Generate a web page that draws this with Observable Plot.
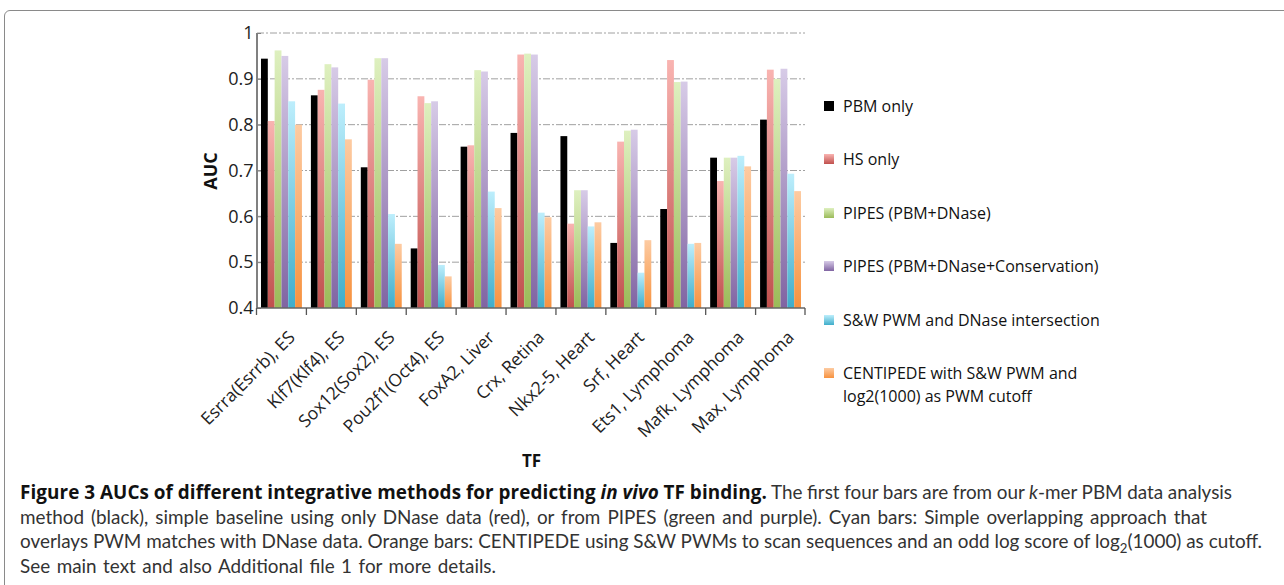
<!DOCTYPE html>
<html>
<head>
<meta charset="utf-8">
<script src="https://cdn.jsdelivr.net/npm/d3@7"></script>
<script src="https://cdn.jsdelivr.net/npm/@observablehq/plot@0.6"></script>
<style>
  html, body { margin: 0; padding: 0; background: #fff; width: 1284px; height: 585px; overflow: hidden; }
  #box { position: absolute; left: 4px; top: 10px; width: 1300px; height: 600px; border: 1.5px solid #8a8a8a; border-radius: 6px; box-sizing: border-box; }
  #chart { position: absolute; left: 0; top: 0; }
  #legend { position: absolute; left: 824px; top: 0; font-family: "Open Sans", sans-serif; font-size: 16px; color: #111; }
  .li { position: absolute; left: 0; white-space: nowrap; line-height: 23px; }
  .sw { position: absolute; left: 0; width: 10px; height: 10px; }
  .lt { position: absolute; left: 19px; }
  #caption { position: absolute; left: 20px; top: 480px; font-family: Lato, "Open Sans", sans-serif; font-size: 18px; line-height: 24.7px; color: #333; white-space: nowrap; }
  #caption b { font-family: "Open Sans", sans-serif; font-weight: bold; color: #111; letter-spacing: 0.1px; }
  #caption .ln { display: block; height: 24.7px; }
  #caption sub { font-size: 0.7em; vertical-align: -0.35em; line-height: 0; }
</style>
</head>
<body>
<div id="box"></div>
<div id="chart"></div>
<div id="legend"></div>
<div id="caption"></div>
<script>
const tfs = ["Esrra(Esrrb), ES", "Klf7(Klf4), ES", "Sox12(Sox2), ES", "Pou2f1(Oct4), ES", "FoxA2, Liver", "Crx, Retina", "Nkx2-5, Heart", "Srf, Heart", "Ets1, Lymphoma", "Mafk, Lymphoma", "Max, Lymphoma"];
const methods = ["PBM only", "HS only", "PIPES (PBM+DNase)", "PIPES (PBM+DNase+Conservation)", "S&W PWM and DNase intersection", "CENTIPEDE with S&W PWM and log2(1000) as PWM cutoff"];
const pbmOnly     = [0.944, 0.864, 0.707, 0.530, 0.752, 0.782, 0.775, 0.542, 0.616, 0.728, 0.811];
const hsOnly      = [0.808, 0.876, 0.898, 0.862, 0.755, 0.953, 0.584, 0.763, 0.941, 0.677, 0.920];
const pipes       = [0.962, 0.932, 0.945, 0.847, 0.919, 0.955, 0.657, 0.787, 0.893, 0.728, 0.900];
const pipesCons   = [0.950, 0.925, 0.945, 0.851, 0.916, 0.953, 0.657, 0.789, 0.894, 0.728, 0.922];
const swPwm       = [0.851, 0.846, 0.605, 0.494, 0.654, 0.608, 0.578, 0.477, 0.540, 0.732, 0.693];
const centipede   = [0.800, 0.768, 0.540, 0.469, 0.618, 0.598, 0.587, 0.548, 0.542, 0.709, 0.655];
const series = [pbmOnly, hsOnly, pipes, pipesCons, swPwm, centipede];
const yTicks = [0.4, 0.5, 0.6, 0.7, 0.8, 0.9, 1];
const gradTop    = ["#000000", "#f9b4b1", "#def0bf", "#d7cbe7", "#bdeefc", "#fdcba2"];
const gradBottom = ["#000000", "#c0504d", "#9bbb59", "#8064a2", "#3fadca", "#f7923f"];

const data = tfs.flatMap((tf, i) => methods.map((m, j) => ({tf, method: m, auc: series[j][i]})));

const plot = Plot.plot({
  width: 820,
  height: 475,
  marginLeft: 257,
  marginRight: 15,
  marginTop: 33,
  marginBottom: 167,
  style: {fontFamily: "Open Sans, sans-serif", fontSize: "16px", color: "#222", background: "transparent"},
  fx: {domain: tfs, paddingInner: 0.18, paddingOuter: 0.08, round: false, label: null},
  x: {domain: methods, padding: 0, round: false, axis: null},
  y: {domain: [yTicks[0], yTicks[yTicks.length - 1]], axis: null},
  color: {domain: methods, range: methods.map((_, j) => `url(#grad${j})`)},
  marks: [
    Plot.barY(data, {fx: "tf", x: "method", y1: yTicks[0], y2: "auc", fill: "method"}),
    Plot.axisY({ticks: yTicks, tickSize: 5, tickPadding: 3, stroke: "#808080", tickFormat: d => String(+d.toFixed(1)), label: "AUC", labelAnchor: "center", labelArrow: "none", labelOffset: 57, fontSize: 18}),
    Plot.axisFx({anchor: "bottom", tickSize: 0, tickRotate: -45, tickPadding: 22, dx: 10, dy: 4, label: null, fontSize: 17.5}),
    Plot.axisFx({anchor: "bottom", tickSize: 0, tickFormat: () => "", label: "TF", labelAnchor: "center", labelArrow: "none", labelOffset: 158, fontSize: 17})
  ]
});
document.getElementById("chart").appendChild(plot);

const svg = d3.select(plot);
// gradients
const defs = svg.insert("defs", ":first-child");
gradTop.forEach((c, j) => {
  const g = defs.append("linearGradient").attr("id", `grad${j}`).attr("x1", 0).attr("y1", 0).attr("x2", 0).attr("y2", 1);
  g.append("stop").attr("offset", "0%").attr("stop-color", c);
  g.append("stop").attr("offset", "100%").attr("stop-color", gradBottom[j]);
});

// gridlines, axis lines and group boundary ticks from plot scales
const ys = plot.scale("y");
const fxs = plot.scale("fx");
const left = 257, right = 820 - 15;
const under = svg.insert("g", "g").attr("class", "under");
yTicks.slice(1).forEach(t => {
  under.append("line").attr("x1", left).attr("x2", right).attr("y1", ys.apply(t)).attr("y2", ys.apply(t))
    .attr("stroke", "#a0a0a0").attr("stroke-width", 1).attr("stroke-dasharray", "7,2,2,2");
});
const over = svg.append("g").attr("class", "over");
const y0 = ys.apply(yTicks[0]), y1 = ys.apply(yTicks[yTicks.length - 1]);
over.append("line").attr("x1", left).attr("x2", left).attr("y1", y0).attr("y2", y1).attr("stroke", "#808080").attr("stroke-width", 2);
over.append("line").attr("x1", left).attr("x2", right).attr("y1", y0).attr("y2", y0).attr("stroke", "#666").attr("stroke-width", 1.6);
const step = fxs.step;
const bounds = tfs.map(tf => fxs.apply(tf) - (step - fxs.bandwidth) / 2);
bounds.push(right);
bounds.forEach(bx => {
  over.append("line").attr("x1", bx).attr("x2", bx).attr("y1", y0).attr("y2", y0 + 7).attr("stroke", "#555").attr("stroke-width", 1.3);
});
svg.selectAll("text").filter(function() { const t = this.textContent; return t === "AUC" || t === "TF"; })
  .attr("font-weight", "bold").attr("fill", "#111");

// legend
const legendY = [106, 159, 213, 266, 320, 373];
const leg = d3.select("#legend");
methods.forEach((m, j) => {
  const item = leg.append("div").attr("class", "li").style("top", (legendY[j] - 11.5) + "px");
  item.append("div").attr("class", "sw").style("top", "6.5px")
    .style("background", `linear-gradient(${gradTop[j]}, ${gradBottom[j]})`);
  const label = j === 5 ? "CENTIPEDE with S&amp;W PWM and<br>log2(1000) as PWM cutoff" : m.replace("&", "&amp;");
  item.append("div").attr("class", "lt").html(label);
});

// caption
const capLines = [
  '<b>Figure 3 AUCs of different integrative methods for predicting <i>in vivo</i> TF binding.</b> The first four bars are from our <i>k</i>-mer PBM data analysis',
  'method (black), simple baseline using only DNase data (red), or from PIPES (green and purple). Cyan bars: Simple overlapping approach that',
  'overlays PWM matches with DNase data. Orange bars: CENTIPEDE using S&amp;W PWMs to scan sequences and an odd log score of log<sub>2</sub>(1000) as cutoff.',
  'See main text and also Additional file 1 for more details.'
];
const capTargets = [1212, 1187, 1242, 476];
const cap = document.getElementById("caption");
cap.innerHTML = capLines.map(l => `<span class="ln"><span class="in">${l}</span></span>`).join("");
const inners = cap.querySelectorAll(".in");
const w3 = inners[2].getBoundingClientRect().width;
cap.style.fontSize = (18 * capTargets[2] / w3) + "px";
inners.forEach((el, k) => {
  const w = el.getBoundingClientRect().width;
  const spaces = (capLines[k].replace(/<[^>]*>/g, "").match(/ /g) || []).length;
  if (spaces) el.style.wordSpacing = ((capTargets[k] - w) / spaces) + "px";
});
</script>
</body>
</html>
